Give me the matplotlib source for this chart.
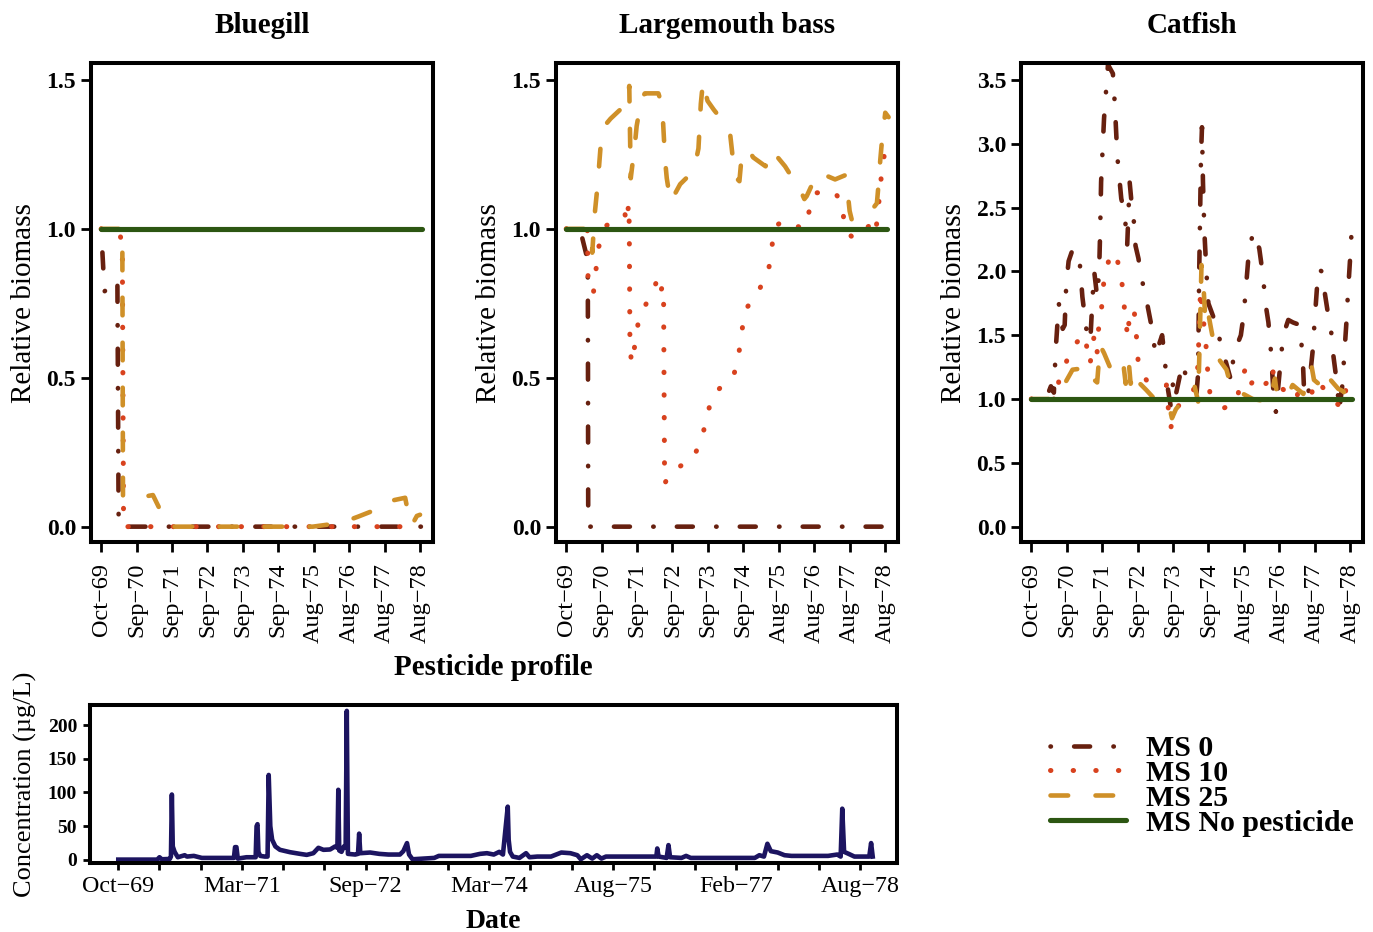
import matplotlib
matplotlib.use("Agg")
import matplotlib.pyplot as plt

plt.rcParams['font.family'] = ['Liberation Serif', 'DejaVu Serif']
plt.rcParams['lines.scale_dashes'] = False

# days since 1 Oct 1969
top_ticks = [0, 360, 720, 1080, 1440, 1800, 2160, 2520, 2880, 3240]
top_labels = ['Oct−69', 'Sep−70', 'Sep−71', 'Sep−72', 'Sep−73', 'Sep−74',
              'Aug−75', 'Aug−76', 'Aug−77', 'Aug−78']
bot_ticks = list(range(0, 3241, 180))
bot_labels = ['Oct−69', '', '', 'Mar−71', '', '', 'Sep−72', '', '', 'Mar−74', '', '',
              'Aug−75', '', '', 'Feb−77', '', '', 'Aug−78']

nopest_day = [0, 3260]
nopest_val = [1.0, 1.0]

# Bluegill
bg_ms0_day = [0, 34, 165, 178, 3260]
bg_ms0_val = [1.0, 0.79, 0.83, 0.0, 0.0]
bg_ms10_day = [0, 187, 215, 228, 3260]
bg_ms10_val = [1.0, 0.985, 0.95, 0.0, 0.0]
bg_ms25_day = [0, 215, 222, 340, 526, 594, 655, 700, 2150, 2376, 2500, 2614, 2783,
               2902, 3089, 3123, 3157, 3208, 3240]
bg_ms25_val = [1.0, 1.0, 0.1, 0.095, 0.106, 0.06, 0.03, 0.0, 0.0, 0.01, 0.02, 0.034,
               0.056, 0.084, 0.097, 0.04, 0.005, 0.036, 0.04]

# Largemouth bass
lb_ms0_day = [0, 140, 215, 220, 224, 3260]
lb_ms0_val = [1.0, 1.0, 0.9, 0.83, 0.0, 0.0]
lb_ms10_day = [0, 215, 222, 275, 302, 326, 404, 500, 570, 597, 614, 635, 641, 648, 665,
               677, 702, 740, 845, 937, 960, 981, 990, 1000, 1082, 1279, 1374, 1425,
               1482, 1632, 1703, 1754, 1784, 1825, 1952, 2054, 2087, 2115, 2223, 2403,
               2461, 2522, 2719, 2815, 2820, 2923, 3096, 3140, 3167, 3184, 3208, 3242, 3265]
lb_ms10_val = [1.0, 1.0, 0.84, 0.78, 0.86, 0.935, 1.01, 1.03, 1.05, 1.05, 1.02, 1.085,
               1.01, 0.6, 0.55, 0.55, 0.627, 0.70, 0.77, 0.835, 0.79, 0.81, 0.75, 0.145,
               0.19, 0.224, 0.289, 0.363, 0.437, 0.49, 0.508, 0.58, 0.656, 0.73, 0.79,
               0.856, 0.93, 1.007, 1.03, 1.0, 1.05, 1.12, 1.128, 1.08, 1.0, 0.967, 1.015,
               0.985, 1.045, 1.12, 1.195, 1.27, 1.254]
lb_ms25_day = [0, 250, 265, 290, 320, 355, 400, 451, 580, 614, 641, 648, 656, 700, 716,
               767, 800, 937, 960, 981, 1005, 1022, 1060, 1158, 1250, 1310, 1344, 1368,
               1390, 1436, 1500, 1582, 1667, 1697, 1731, 1760, 1775, 1843, 1900, 2026,
               2087, 2224, 2300, 2366, 2420, 2444, 2500, 2563, 2732, 2834, 2861, 2880,
               2902, 3055, 3120, 3157, 3173, 3191, 3207, 3242, 3276]
lb_ms25_val = [1.0, 1.0, 0.92, 1.05, 1.15, 1.3, 1.35, 1.37, 1.41, 1.41, 1.48, 1.33, 1.17,
               1.29, 1.345, 1.44, 1.455, 1.455, 1.43, 1.38, 1.23, 1.17, 1.09, 1.15, 1.18,
               1.215, 1.27, 1.42, 1.495, 1.43, 1.40, 1.366, 1.315, 1.225, 1.17, 1.16,
               1.215, 1.27, 1.24, 1.21, 1.265, 1.21, 1.17, 1.14, 1.10, 1.11, 1.15, 1.19,
               1.166, 1.18, 1.12, 1.06, 1.03, 1.063, 1.07, 1.086, 1.147, 1.23, 1.29,
               1.39, 1.375]

# Catfish
cf_ms0_day = [0, 150, 200, 230, 250, 280, 320, 340, 356, 380, 424, 450, 492, 520, 560,
              600, 620, 640, 670, 690, 700, 710, 740, 780, 830, 850, 875, 915, 950, 975,
              1000, 1018, 1035, 1045, 1060, 1090, 1110, 1160, 1220, 1240, 1260, 1330,
              1345, 1380, 1418, 1440, 1460, 1537, 1600, 1680, 1696, 1705, 1715, 1725,
              1735, 1745, 1760, 1780, 1800, 1876, 1930, 1978, 2032, 2060, 2090, 2130,
              2160, 2190, 2211, 2255, 2317, 2347, 2390, 2410, 2435, 2460, 2486, 2537,
              2560, 2612, 2660, 2730, 2760, 2770, 2810, 2860, 2883, 2917, 2951, 2985,
              3019, 3053, 3070, 3110, 3129, 3160, 3205, 3216, 3240, 3265]
cf_ms0_val = [1.0, 1.0, 1.1, 1.05, 1.4, 1.75, 1.55, 1.58, 1.9, 2.08, 2.18, 2.15, 2.08,
              1.8, 1.55, 1.45, 1.75, 2.0, 1.8, 2.0, 2.3, 2.7, 3.2, 3.62, 3.55, 3.3, 2.9,
              2.57, 2.45, 2.2, 2.7, 2.55, 2.53, 2.35, 2.2, 2.1, 1.98, 1.82, 1.58, 1.5,
              1.34, 1.5, 1.4, 1.12, 0.94, 1.12, 1.0, 1.28, 1.1, 1.05, 1.2, 1.9, 2.4, 2.9,
              3.13, 2.7, 2.3, 2.0, 1.75, 1.59, 1.42, 1.29, 1.14, 1.38, 1.42, 1.5, 1.67,
              1.95, 2.15, 2.31, 2.18, 2.01, 1.70, 1.6, 1.38, 1.07, 0.9, 1.32, 1.5, 1.62,
              1.6, 1.58, 1.3, 1.11, 1.0, 1.38, 1.65, 2.02, 2.0, 1.82, 1.65, 1.5, 1.34,
              1.1, 0.91, 1.1, 1.63, 1.8, 2.1, 2.45]
cf_ms10_day = [0, 230, 250, 282, 333, 397, 470, 533, 580, 597, 640, 669, 682, 706, 730,
               750, 811, 870, 899, 933, 943, 953, 987, 994, 1045, 1055, 1075, 1089, 1191,
               1374, 1391, 1418, 1450, 1550, 1638, 1686, 1700, 1720, 1740, 1770, 1790,
               1815, 1960, 2090, 2127, 2174, 2220, 2276, 2350, 2398, 2446, 2490, 2520,
               2600, 2690, 2717, 2819, 2850, 2873, 2927, 3000, 3138, 3172, 3205, 3256]
cf_ms10_val = [1.0, 1.0, 0.98, 1.15, 1.23, 1.39, 1.45, 1.51, 1.36, 1.27, 1.5, 1.36, 1.54,
               1.62, 1.87, 1.98, 2.15, 2.1, 2.02, 1.85, 1.76, 1.62, 1.48, 1.66, 1.71,
               1.61, 1.44, 1.26, 1.12, 1.11, 0.94, 0.77, 0.9, 1.0, 1.05, 1.15, 1.4, 1.86,
               1.67, 1.49, 1.25, 1.05, 0.93, 0.98, 1.15, 1.23, 1.1, 1.17, 1.1, 1.13, 1.25,
               1.1, 1.1, 1.05, 0.99, 1.07, 1.08, 1.04, 1.14, 1.13, 1.05, 0.94, 0.94, 1.12,
               1.06]
cf_ms25_day = [0, 230, 260, 300, 340, 420, 520, 594, 640, 670, 700, 740, 800, 900, 940,
               960, 990, 1010, 1060, 1080, 1170, 1290, 1400, 1430, 1470, 1550, 1660, 1696,
               1710, 1730, 1750, 1765, 1780, 1830, 1880, 1984, 2030, 2090, 2154, 2250,
               2330, 2420, 2476, 2500, 2600, 2656, 2765, 2850, 2873, 2950, 2985, 3120,
               3172, 3222, 3260]
cf_ms25_val = [1.0, 1.0, 1.04, 1.1, 1.12, 1.23, 1.24, 1.25, 1.15, 1.13, 1.42, 1.36, 1.25,
               1.17, 1.25, 1.12, 1.3, 1.12, 1.22, 1.14, 1.07, 0.97, 0.95, 0.85, 0.92, 1.0,
               1.1, 0.98, 1.4, 2.05, 1.9, 1.67, 1.75, 1.54, 1.34, 1.23, 1.1, 1.1, 1.04,
               1.0, 0.99, 0.97, 1.16, 1.02, 1.02, 1.11, 1.04, 1.25, 1.15, 1.1, 1.2, 1.08,
               1.06, 0.98, 1.05]

# pesticide concentration (ug/L)
pest_day = [0, 170, 180, 190, 225, 230, 234, 238, 246, 260, 290, 300, 330, 365, 420, 505,
            510, 516, 522, 560, 600, 604, 608, 612, 620, 640, 652, 657, 664, 672, 686,
            706, 750, 794, 823, 852, 874, 896, 925, 947, 957, 961, 965, 975, 985, 993,
            998, 1003, 1035, 1047, 1052, 1057, 1100, 1140, 1180, 1230, 1245, 1261, 1270,
            1285, 1380, 1400, 1470, 1540, 1580, 1610, 1640, 1664, 1680, 1690, 1701, 1705,
            1711, 1723, 1752, 1781, 1796, 1830, 1890, 1935, 1975, 2005, 2020, 2047, 2070,
            2090, 2110, 2130, 2300, 2350, 2354, 2360, 2395, 2403, 2410, 2460, 2480, 2500,
            2780, 2800, 2820, 2835, 2850, 2880, 2910, 2940, 3100, 3140, 3155, 3162, 3170,
            3190, 3215, 3280, 3288, 3295]
pest_conc = [0.5, 0.5, 4, 1, 1.5, 5, 97, 20, 12, 4, 7, 5, 6, 3, 3, 3, 19, 19, 2, 4, 4, 50,
             53, 12, 6, 5, 5, 126, 50, 30, 20, 15, 11.5, 9, 7.5, 10, 18, 15, 15.5, 20, 18,
             104, 14, 12, 20, 18, 221, 9, 8, 9, 39, 10, 11, 9, 8, 8, 13, 25, 8, 1, 3, 6, 6,
             6, 9, 10, 8, 12, 8, 42, 79, 30, 12, 5, 3, 10, 4, 5, 5, 11, 10, 7, 1, 7, 2, 7,
             2, 5, 5, 5, 17, 5, 3, 22, 4, 3, 6, 3, 3, 7, 5, 24, 13, 11, 7, 6, 6, 8, 5, 76,
             12, 9, 5, 5, 25, 5]

c_ms0 = '#67200f'
c_ms10 = '#d8421e'
c_ms25 = '#cf9028'
c_none = '#2c5612'
c_pest = '#1c1460'

sty_ms0 = dict(color=c_ms0, lw=3.3, linestyle=(0, (0.3, 16.7, 11.5, 16.8)),
               dash_capstyle='round', solid_capstyle='round')
sty_ms10 = dict(color=c_ms10, lw=3.6, linestyle=(0, (0.3, 16.0)),
                dash_capstyle='round')
sty_ms25 = dict(color=c_ms25, lw=3.3, linestyle=(0, (12.7, 19.7)),
                dash_capstyle='round')
sty_none = dict(color=c_none, lw=3.7, solid_capstyle='round')

fig = plt.figure(figsize=(13.73, 9.32), dpi=100)

panels = [
    ('Bluegill', 0.0665, (bg_ms0_day, bg_ms0_val), (bg_ms10_day, bg_ms10_val),
     (bg_ms25_day, bg_ms25_val), (-0.0514, 1.556), [0.0, 0.5, 1.0, 1.5]),
    ('Largemouth bass', 0.4052, (lb_ms0_day, lb_ms0_val), (lb_ms10_day, lb_ms10_val),
     (lb_ms25_day, lb_ms25_val), (-0.0514, 1.556), [0.0, 0.5, 1.0, 1.5]),
    ('Catfish', 0.7439, (cf_ms0_day, cf_ms0_val), (cf_ms10_day, cf_ms10_val),
     (cf_ms25_day, cf_ms25_val), (-0.12, 3.631),
     [0.0, 0.5, 1.0, 1.5, 2.0, 2.5, 3.0, 3.5]),
]

handles = None
for title, left, s0, s10, s25, ylim, yt in panels:
    ax = fig.add_axes([left, 0.4185, 0.2491, 0.5136])
    h0, = ax.plot(s0[0], s0[1], **sty_ms0)
    h10, = ax.plot(s10[0], s10[1], **sty_ms10)
    h25, = ax.plot(s25[0], s25[1], **sty_ms25)
    hn, = ax.plot(nopest_day, nopest_val, **sty_none)
    if handles is None:
        handles = [h0, h10, h25, hn]
    ax.set_xlim(-100, 3375)
    ax.set_ylim(*ylim)
    ax.set_xticks(top_ticks)
    ax.set_xticklabels(top_labels, rotation=90, fontsize=17.5)
    ax.set_yticks(yt)
    ax.set_yticklabels(['%.1f' % v for v in yt], fontsize=17, fontweight='bold')
    ax.tick_params(axis='both', length=7, width=2)
    ax.tick_params(axis='x', pad=8)
    ax.tick_params(axis='y', pad=4)
    for sp in ax.spines.values():
        sp.set_linewidth(2.9)
    ax.set_title(title, fontsize=21, fontweight='bold', pad=22)
    ax.set_ylabel('Relative biomass', fontsize=21, labelpad=7)

# pesticide profile
axp = fig.add_axes([0.0653, 0.0737, 0.588, 0.1698])
axp.plot(pest_day, pest_conc, color=c_pest, lw=3.3, solid_joinstyle='round')
axp.set_xlim(-125, 3401)
axp.set_ylim(-5, 229.6)
axp.set_xticks(bot_ticks)
axp.set_xticklabels(bot_labels, fontsize=17.3)
axp.set_yticks([0, 50, 100, 150, 200])
axp.set_yticklabels(['0', '50', '100', '150', '200'], fontsize=14, fontweight='bold')
axp.tick_params(axis='both', length=5, width=2)
axp.tick_params(axis='x', pad=4)
axp.tick_params(axis='y', pad=4)
for sp in axp.spines.values():
    sp.set_linewidth(2.9)
axp.set_title('Pesticide profile', fontsize=21, fontweight='bold', pad=22)
axp.set_xlabel('Date', fontsize=20, fontweight='bold', labelpad=9)
axp.set_ylabel('Concentration (µg/L)', fontsize=19, labelpad=8)

fig.legend(handles, ['MS 0', 'MS 10', 'MS 25', 'MS No pesticide'],
           loc='upper left', bbox_to_anchor=(1050 / 1373, 1 - 735 / 932),
           frameon=False, prop={'family': 'Liberation Serif', 'weight': 'bold', 'size': 21.5},
           handlelength=2.55, handletextpad=0.67, labelspacing=-0.07,
           borderpad=0, borderaxespad=0)

fig.savefig('out.png', dpi=100)
